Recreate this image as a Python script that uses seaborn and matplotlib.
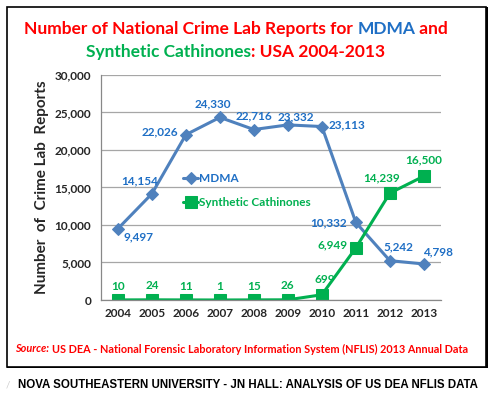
import matplotlib
matplotlib.use("Agg")
import matplotlib.pyplot as plt
import matplotlib.patches as patches
import numpy as np
import pandas as pd
import seaborn as sns

# данные
years = [2004, 2005, 2006, 2007, 2008, 2009, 2010, 2011, 2012, 2013]
mdma = [9497, 14154, 22026, 24330, 22716, 23332, 23113, 10332, 5242, 4798]
cathinones = [10, 24, 11, 1, 15, 26, 699, 6949, 14239, 16500]
y_ticks = [0, 5000, 10000, 15000, 20000, 25000, 30000]

BLUE_LINE = "#4F81BD"
BLUE_TXT = "#1F6FC5"
GREEN = "#00B050"
RED = "#FF0000"

sns.set_theme(style="white")
plt.rcParams["font.family"] = ["Lato", "DejaVu Sans"]

fig = plt.figure(figsize=(4.97, 3.95), dpi=100)
ax = fig.add_axes([0.203, 0.2405, 0.684, 0.570])

df = pd.DataFrame({"year": years, "MDMA": mdma, "Synthetic Cathinones": cathinones})
sns.lineplot(data=df, x="year", y="MDMA", ax=ax, color=BLUE_LINE, lw=2.2,
             marker="D", markersize=6.5, markeredgecolor=BLUE_LINE, label="MDMA")
sns.lineplot(data=df, x="year", y="Synthetic Cathinones", ax=ax, color=GREEN, lw=2.2,
             marker="s", markersize=8, markeredgecolor=GREEN, label="Synthetic Cathinones")

ax.set_xlim(2003.5, 2013.5)
ax.set_ylim(0, 30000)
ax.set_yticks(y_ticks)
ax.set_yticklabels([f"{v:,}" for v in y_ticks], fontweight="bold", fontsize=8.5)
ax.set_xticks(years)
ax.set_xticklabels([str(y) for y in years], fontweight="bold", fontsize=8.5)
ax.set_xticks(np.arange(2003.5, 2014, 1), minor=True)
ax.tick_params(axis="x", which="major", length=0, pad=6)
ax.tick_params(axis="x", which="minor", length=4, color="#888888", direction="out")
ax.tick_params(axis="y", length=4, color="#888888", direction="out", pad=3)
ax.yaxis.grid(True, color="#A6A6A6", lw=0.9)
for s in ["top", "right"]:
    ax.spines[s].set_visible(False)
for s in ["left", "bottom"]:
    ax.spines[s].set_color("#888888")
    ax.spines[s].set_linewidth(0.9)
ax.set_xlabel("")
ax.set_ylabel("Number  of  Crime Lab  Reports", fontweight="bold", fontsize=11, labelpad=4)

# подписи значений (смещения в пунктах)
mdma_off = [(15, -6), (-9, 9), (-19, 2), (-5, 10), (0, 9.5), (6, 6), (18, 1), (-20, 0), (6, 10), (10, 9)]
cath_off = [(0, 10), (0, 10), (0, 10), (0, 10), (0, 10), (0, 10), (2, 11), (-17, 2), (-6, 11), (0, 12)]
for x, v, (dx, dy) in zip(years, mdma, mdma_off):
    ax.annotate(f"{v:,}", (x, v), xytext=(dx, dy), textcoords="offset points",
                ha="center", va="center", color=BLUE_TXT, fontweight="bold", fontsize=8.5)
for x, v, (dx, dy) in zip(years, cathinones, cath_off):
    ax.annotate(f"{v:,}", (x, v), xytext=(dx, dy), textcoords="offset points",
                ha="center", va="center", color=GREEN, fontweight="bold", fontsize=8.5)

leg = ax.legend(loc="upper left", bbox_to_anchor=(0.21, 0.61), frameon=False,
                handlelength=1.3, handletextpad=0.1, labelspacing=1.05,
                prop={"weight": "bold", "size": 8.5})
for t, c in zip(leg.get_texts(), [BLUE_TXT, GREEN]):
    t.set_color(c)

# заголовок в несколько цветов
renderer = fig.canvas.get_renderer()
def colored_line(parts, y, size=12.5):
    texts = []
    for s, c in parts:
        texts.append(fig.text(0, y, s, color=c, fontsize=size, fontweight="bold", va="center"))
    widths = [t.get_window_extent(renderer).width for t in texts]
    x = (236 - sum(widths) / 2)
    for t, w in zip(texts, widths):
        t.set_x(x / 497)
        x += w

colored_line([("Number of National Crime Lab Reports for ", RED), ("MDMA", BLUE_TXT), (" and", RED)], 1 - 29 / 395)
colored_line([("Synthetic Cathinones", GREEN), (": USA 2004-2013", RED)], 1 - 52 / 395)

t1 = fig.text(15 / 497, 1 - 349 / 395, "Source:", color=RED, fontsize=7.8, style="italic", fontweight="bold", va="center")
w1 = t1.get_window_extent(renderer).width
fig.text((15 + w1 + 3) / 497, 1 - 349 / 395,
         "US DEA - National Forensic Laboratory Information System (NFLIS) 2013 Annual Data",
         color=RED, fontsize=7.8, fontweight="bold", va="center")

fig.text(18 / 497, 1 - 385 / 395,
         "NOVA SOUTHEASTERN UNIVERSITY - JN HALL: ANALYSIS OF US DEA NFLIS DATA",
         color="black", fontsize=8.3, fontweight="bold", family=["Liberation Sans", "DejaVu Sans"], va="center")
fig.text(6 / 497, 1 - 385 / 395, "/", color="#CCCCCC", fontsize=7, va="center")

# рамка
fig.patches.append(patches.Rectangle((7 / 497, 1 - 367 / 395), 479 / 497, 360 / 395,
                                     transform=fig.transFigure, fill=False, ec="black", lw=1.2))
fig.patches.append(patches.Rectangle((486 / 497, 1 - 368 / 395), 1.5 / 497, 361 / 395,
                                     transform=fig.transFigure, fc="black", ec="none"))
fig.patches.append(patches.Rectangle((7 / 497, 1 - 368 / 395), 480 / 497, 1.5 / 395,
                                     transform=fig.transFigure, fc="black", ec="none"))

fig.savefig("out.png", dpi=100)
